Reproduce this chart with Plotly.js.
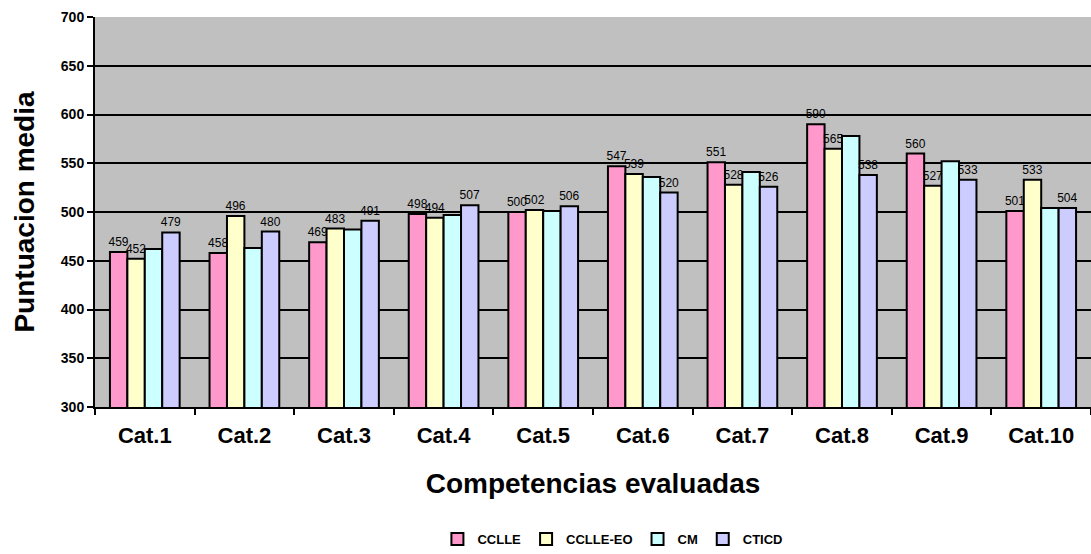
<!DOCTYPE html>
<html>
<head>
<meta charset="utf-8">
<script src="https://cdn.plot.ly/plotly-3.0.1.min.js"></script>
<style>html,body{margin:0;padding:0;background:#fff;}#chart{width:1091px;height:554px;}</style>
</head>
<body>
<div id="chart"></div>
<script>
const categories = ["Cat.1","Cat.2","Cat.3","Cat.4","Cat.5","Cat.6","Cat.7","Cat.8","Cat.9","Cat.10"];
const seriesNames = ["CCLLE","CCLLE-EO","CM","CTICD"];
const cclle   = [459, 458, 469, 498, 500, 547, 551, 590, 560, 501];
const cclleEo = [452, 496, 483, 494, 502, 539, 528, 565, 527, 533];
const cm      = [462, 463, 482, 497, 501, 536, 541, 578, 552, 504];
const cticd   = [479, 480, 491, 507, 506, 520, 526, 538, 533, 504];
const colors = ["#FF99CC","#FFFFCC","#CCFFFF","#CCCCFF"];
const values = [cclle, cclleEo, cm, cticd];
const showLabels = [true, true, false, true];

const font = "Liberation Sans, Arial, sans-serif";
const traces = values.map((v, i) => ({
  type: "bar",
  name: seriesNames[i],
  x: categories,
  y: v,
  marker: {color: colors[i], line: {color: "#000", width: 2}},
  text: showLabels[i] ? v.map(String) : undefined,
  textposition: showLabels[i] ? "outside" : "none",
  constraintext: "none",
  textfont: {family: font, size: 12, color: "#000"},
  cliponaxis: false,
  hoverinfo: "x+y"
}));

const layout = {
  width: 1091, height: 554,
  margin: {l: 95, r: 0, t: 17, b: 147, autoexpand: false},
  paper_bgcolor: "#fff",
  plot_bgcolor: "#C0C0C0",
  barmode: "group",
  bargap: 0.3,
  bargroupgap: 0,
  font: {family: font, color: "#000"},
  showlegend: true,
  legend: {
    orientation: "h", x: 0.52, xanchor: "center", y: -0.3, yanchor: "top",
    font: {family: font, size: 13, color: "#000", weight: "bold"},
    itemwidth: 30, traceorder: "normal"
  },
  xaxis: {
    type: "category",
    tickson: "boundaries",
    ticks: "outside", ticklen: 6, tickcolor: "#000", tickwidth: 2,
    showline: true, linecolor: "#000", linewidth: 2,
    tickfont: {family: font, size: 22, weight: "bold"},
    ticklabelstandoff: 8,
    title: {text: "Competencias evaluadas", font: {family: font, size: 28, weight: "bold"}, standoff: 26}
  },
  yaxis: {
    range: [300, 700],
    tickvals: [300,350,400,450,500,550,600,650,700],
    ticks: "outside", ticklen: 6, tickcolor: "#000", tickwidth: 2,
    showline: true, linecolor: "#000", linewidth: 2,
    showgrid: true, gridcolor: "#000", gridwidth: 2,
    zeroline: false,
    tickfont: {family: font, size: 14, weight: "bold"},
    title: {text: "Puntuacion media", font: {family: font, size: 28, weight: "bold"}, standoff: 18}
  }
};

Plotly.newPlot("chart", traces, layout, {displayModeBar: false, staticPlot: true});
</script>
</body>
</html>
